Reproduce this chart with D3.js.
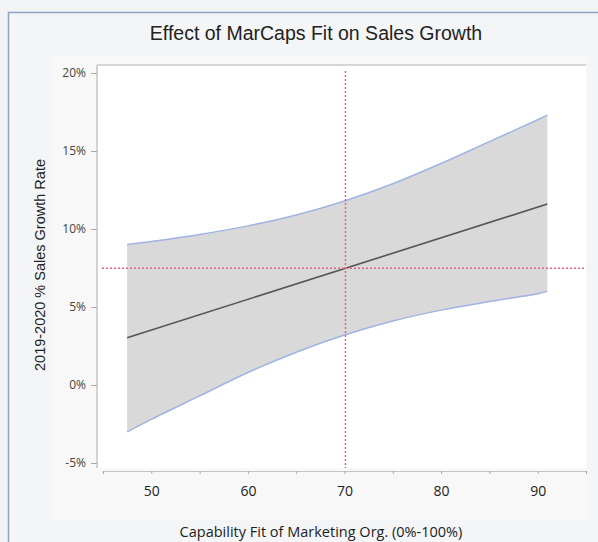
<!DOCTYPE html>
<html>
<head>
<meta charset="utf-8">
<script src="https://cdn.jsdelivr.net/npm/d3@7"></script>
<style>
  body { margin: 0; background: #f2f3f5; }
  svg { display: block; }
</style>
</head>
<body>
<div id="chart"></div>
<script>
// values
const fitX = [47.5, 91];
const fitY = [3.03, 11.6];
const bandX = [47.5, 50, 55, 60, 65, 70, 75, 80, 85, 90, 91];
const bandUpper = [9.0, 9.2, 9.65, 10.2, 10.9, 11.8, 12.9, 14.2, 15.6, 17.0, 17.3];
const bandLower = [-3.0, -2.2, -0.7, 0.8, 2.1, 3.2, 4.1, 4.8, 5.35, 5.85, 6.0];
const meanX = 70.1;
const meanY = 7.48;
const xTicks = [50, 60, 70, 80, 90];
const xMinorTicks = [45, 50, 55, 60, 65, 70, 75, 80, 85, 90, 95];
const yTicks = [-5, 0, 5, 10, 15, 20];

const W = 598, H = 542;
const plot = { left: 97, top: 65, right: 586, bottom: 468 };

const svg = d3.select("#chart").append("svg")
  .attr("width", W)
  .attr("height", H);

// outer frame
svg.append("rect")
  .attr("x", 8.5).attr("y", 12.5)
  .attr("width", W).attr("height", H)
  .attr("fill", "#f4f5f7")
  .attr("stroke", "#8ea5c2")
  .attr("stroke-width", 1.5);

// inner panel
svg.append("rect")
  .attr("x", 52).attr("y", 56)
  .attr("width", 535).attr("height", 464)
  .attr("fill", "#f8f8f8");

// plot area
svg.append("rect")
  .attr("x", plot.left).attr("y", plot.top)
  .attr("width", plot.right - plot.left).attr("height", plot.bottom - plot.top)
  .attr("fill", "#fff");

const x = d3.scaleLinear().domain([45, 95]).range([103, 586]);
const y = d3.scaleLinear().domain([-5, 20]).range([463, 73]);

// top border of plot
svg.append("line")
  .attr("x1", plot.left).attr("x2", plot.right)
  .attr("y1", plot.top).attr("y2", plot.top)
  .attr("stroke", "#c8c8c8").attr("stroke-width", 1.5);

// confidence band
const bandData = bandX.map((d, i) => ({ x: d, lo: bandLower[i], hi: bandUpper[i] }));

svg.append("path")
  .datum(bandData)
  .attr("fill", "#d9d9d9")
  .attr("d", d3.area()
    .x(d => x(d.x))
    .y0(d => y(d.lo))
    .y1(d => y(d.hi))
    .curve(d3.curveCatmullRom));

["hi", "lo"].forEach(k => {
  svg.append("path")
    .datum(bandData)
    .attr("fill", "none")
    .attr("stroke", "#9fb4e2")
    .attr("stroke-width", 1.5)
    .attr("d", d3.line()
      .x(d => x(d.x))
      .y(d => y(d[k]))
      .curve(d3.curveCatmullRom));
});

// fit line
svg.append("path")
  .datum(fitX.map((d, i) => [d, fitY[i]]))
  .attr("fill", "none")
  .attr("stroke", "#555")
  .attr("stroke-width", 1.6)
  .attr("d", d3.line().x(d => x(d[0])).y(d => y(d[1])));

// crosshair at the mean
svg.append("line")
  .attr("x1", x(meanX)).attr("x2", x(meanX))
  .attr("y1", plot.top + 6).attr("y2", plot.bottom)
  .attr("stroke", "#e8607a").attr("stroke-width", 1.5)
  .attr("stroke-dasharray", "2,2");

svg.append("line")
  .attr("x1", plot.left + 5).attr("x2", plot.right)
  .attr("y1", y(meanY)).attr("y2", y(meanY))
  .attr("stroke", "#e8607a").attr("stroke-width", 1.5)
  .attr("stroke-dasharray", "2,2");

// y axis
const yAxis = svg.append("g")
  .attr("transform", `translate(${plot.left},0)`)
  .call(d3.axisLeft(y).tickValues(yTicks).tickSize(6).tickPadding(5).tickFormat(d => d + "%"));
yAxis.select(".domain")
  .attr("d", `M0,${plot.top}V${plot.bottom}`)
  .attr("stroke", "#c4c4c4").attr("stroke-width", 1.5);
yAxis.selectAll(".tick line").attr("stroke", "#aaa");
yAxis.selectAll("text")
  .style("font-family", "'Open Sans', sans-serif")
  .style("font-size", "12px")
  .attr("fill", "#444");

// x axis
const xAxis = svg.append("g")
  .attr("transform", "translate(0,471)")
  .call(d3.axisBottom(x).tickValues(xMinorTicks).tickSize(3).tickPadding(12)
    .tickFormat(d => xTicks.includes(d) ? d : ""));
xAxis.select(".domain")
  .attr("stroke", "#c4c4c4").attr("stroke-width", 1.2);
xAxis.selectAll(".tick line").attr("stroke", "#aaa");
xAxis.selectAll("text")
  .style("font-family", "'Open Sans', sans-serif")
  .style("font-size", "14px")
  .attr("fill", "#222");

// title
svg.append("text")
  .attr("x", 316).attr("y", 40)
  .attr("text-anchor", "middle")
  .style("font-family", "'Liberation Sans', Arial, sans-serif")
  .style("font-size", "19.5px")
  .attr("fill", "#222")
  .text("Effect of MarCaps Fit on Sales Growth");

// y title
svg.append("text")
  .attr("transform", "translate(45,265) rotate(-90)")
  .attr("text-anchor", "middle")
  .style("font-family", "'Liberation Sans', Arial, sans-serif")
  .style("font-size", "14.5px")
  .attr("fill", "#222")
  .text("2019-2020 % Sales Growth Rate");

// x title
svg.append("text")
  .attr("x", 321).attr("y", 537)
  .attr("text-anchor", "middle")
  .style("font-family", "'Open Sans', sans-serif")
  .style("font-size", "14.5px")
  .attr("fill", "#222")
  .text("Capability Fit of Marketing Org. (0%-100%)");
</script>
</body>
</html>
